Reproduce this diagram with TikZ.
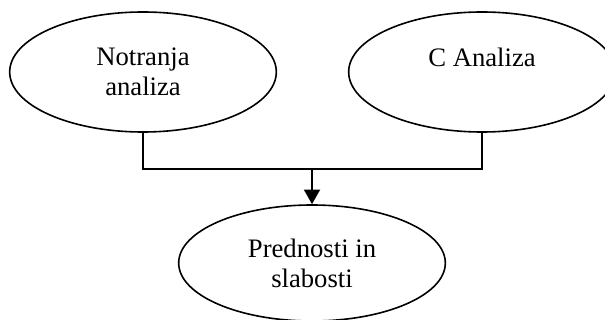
\documentclass[tikz,border=0pt]{standalone}
\usepackage{fontspec}
\setmainfont{Liberation Serif}
\usetikzlibrary{shapes.geometric, arrows.meta}

\begin{document}
\begin{tikzpicture}
  [
    x=0.75pt, y=-0.75pt,
    every node/.style={font=\fontsize{20}{22.5}\selectfont},
    analysis/.style={draw, ellipse, line width=1.2pt, align=center,
      inner sep=0pt, minimum width=200pt, minimum height=90pt},
    link/.style={line width=1.5pt},
    arrow/.style={link, -{Triangle[length=11pt, width=12pt]}}
  ]
  \useasboundingbox (0,0) rectangle (605,320);

  \node[analysis] (internal) at (143,72) {Notranja\\analiza};
  \node[analysis] (canalysis) at (482,72) {C Analiza\\\mbox{}};
  \node[analysis, minimum height=87pt] (swot) at (312,263) {Prednosti in\\slabosti};

  % vodilo med elipsama
  \coordinate (bus) at (312,169);
  \draw[link] (internal.south) |- (bus) -| (canalysis.south);
  \draw[arrow] (bus) -- (swot.north);
\end{tikzpicture}
\end{document}
